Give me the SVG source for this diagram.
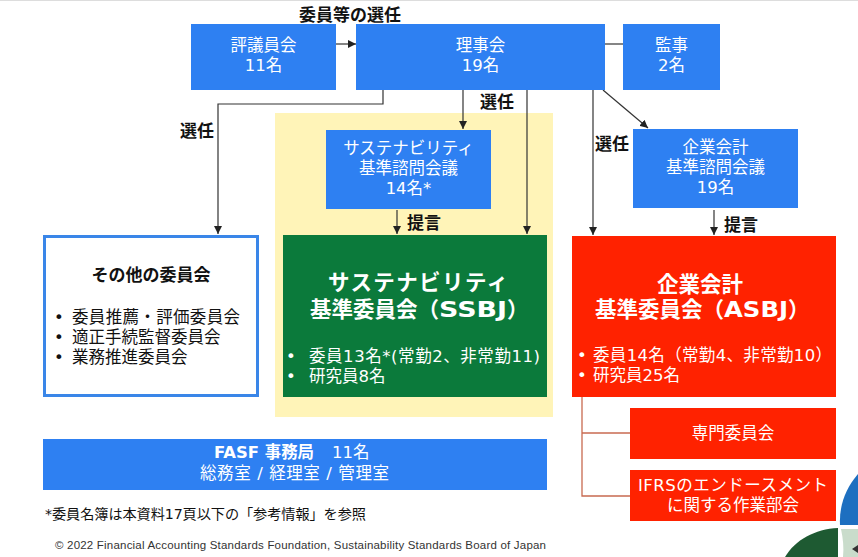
<svg xmlns="http://www.w3.org/2000/svg" width="858" height="557" viewBox="0 0 858 557">
<defs>
<marker id="ah" viewBox="0 0 8 8" refX="8" refY="4" markerWidth="8" markerHeight="8" markerUnits="userSpaceOnUse" orient="auto">
<path d="M0,0 L8,4 L0,8 z" fill="#222"/>
</marker>
<style>
text{font-family:"DejaVu Sans","Noto Sans CJK JP",sans-serif}
.w{fill:#fff;font-size:16.5px;text-anchor:middle}
.wb{fill:#fff;font-size:21.5px;font-weight:bold}
.wl{fill:#fff;font-size:16.5px}
.k{fill:#111;font-size:16.5px}
.kb{fill:#111;font-size:17px;font-weight:bold}
.blue{fill:#2E80F2}
.red{fill:#FF2200}
.ln{stroke:#333;stroke-width:1.2;fill:none}
.lna{stroke:#333;stroke-width:1.2;fill:none;marker-end:url(#ah)}
.br{stroke:#C86A50;stroke-width:1.3;fill:none}
</style>
</defs>
<rect x="0" y="0" width="858" height="557" fill="#fff"/>
<line x1="0" y1="0.5" x2="858" y2="0.5" stroke="#ddd" stroke-width="1"/>

<g id="logo">
<path d="M840,525 C839,505 846,488 858,474 L858,525 Z" fill="#1D6FC0"/>
<path d="M785,557 C795,540 815,529 838,528 L838,557 Z" fill="#1E5A32"/>
<path d="M841,529 L858,529 L858,557 L843,557 C844,548 843,538 841,529 Z" fill="#C9DCCB"/>
<path d="M852,549 L858,545 L858,553 Z" fill="#333"/>
</g>

<g id="sustain-area">
<rect x="275" y="113" width="278" height="304" fill="#FFF4B8"/>
</g>

<g id="connectors">
<line class="lna" x1="336" y1="44" x2="356" y2="44"/>
<line class="ln" x1="605" y1="44" x2="623" y2="44"/>
<polyline class="lna" points="383,90 383,104 218,104 218,234"/>
<line class="lna" x1="463" y1="90" x2="463" y2="129"/>
<line class="lna" x1="527" y1="90" x2="527" y2="234"/>
<line class="lna" x1="593" y1="90" x2="593" y2="235"/>
<line class="lna" x1="603" y1="90" x2="648" y2="128"/>
<line class="lna" x1="397" y1="210" x2="397" y2="234"/>
<line class="lna" x1="714" y1="210" x2="714" y2="235"/>
<polyline class="br" points="582,397 582,496 630,496"/>
<line class="br" x1="582" y1="433" x2="630" y2="433"/>
<text class="kb" x="350" y="21" text-anchor="middle">委員等の選任</text>
<text class="kb" x="197" y="137" text-anchor="middle">選任</text>
<text class="kb" x="497" y="108" text-anchor="middle">選任</text>
<text class="kb" x="612" y="150" text-anchor="middle">選任</text>
<text class="kb" x="407" y="229">提言</text>
<text class="kb" x="724" y="231">提言</text>
</g>

<g id="hyogiinkai">
<rect class="blue" x="191" y="24" width="145" height="66"/>
<text class="w" x="263.5" y="51">評議員会<tspan x="263.5" dy="20">11名</tspan></text>
</g>

<g id="rijikai">
<rect class="blue" x="356" y="24" width="249" height="66"/>
<text class="w" x="480.5" y="51">理事会<tspan x="480.5" dy="20">19名</tspan></text>
</g>

<g id="kanji">
<rect class="blue" x="623" y="24" width="97" height="66"/>
<text class="w" x="671.5" y="51">監事<tspan x="671.5" dy="20">2名</tspan></text>
</g>

<g id="ssb-advisory">
<rect class="blue" x="326" y="130" width="165" height="79"/>
<text class="w" x="408.5" y="154">サステナビリティ<tspan x="408.5" dy="20">基準諮問会議</tspan><tspan x="408.5" dy="20">14名*</tspan></text>
</g>

<g id="asb-advisory">
<rect class="blue" x="633" y="129" width="165" height="79"/>
<text class="w" x="715.5" y="153">企業会計<tspan x="715.5" dy="20">基準諮問会議</tspan><tspan x="715.5" dy="20">19名</tspan></text>
</g>

<g id="ssbj">
<rect x="283" y="235" width="264" height="162" fill="#0B7A3B"/>
<text class="wb" x="328" y="290" textLength="180" lengthAdjust="spacing">サステナビリティ</text>
<text class="wb" x="310" y="317">基準委員会（<tspan textLength="68" lengthAdjust="spacingAndGlyphs">SSBJ</tspan>）</text>
<text class="wl" x="286" y="362">•<tspan x="309" textLength="231" lengthAdjust="spacing">委員13名*(常勤2、非常勤11)</tspan><tspan x="286" dy="20">•</tspan><tspan x="309">研究員8名</tspan></text>
</g>

<g id="asbj">
<rect class="red" x="572" y="236" width="264" height="161"/>
<text class="wb" x="657" y="292" textLength="86" lengthAdjust="spacing">企業会計</text>
<text class="wb" x="595" y="317">基準委員会（<tspan textLength="64" lengthAdjust="spacingAndGlyphs">ASBJ</tspan>）</text>
<text class="wl" x="577" y="361">•<tspan x="593" textLength="239" lengthAdjust="spacing">委員14名（常勤4、非常勤10）</tspan><tspan x="577" dy="20">•</tspan><tspan x="593">研究員25名</tspan></text>
</g>

<g id="other-committees">
<rect x="44.5" y="236.5" width="213" height="159" fill="#fff" stroke="#3A86E8" stroke-width="3"/>
<text class="kb" x="151" y="281" text-anchor="middle">その他の委員会</text>
<text class="k" x="54" y="323">•<tspan x="72" textLength="168" lengthAdjust="spacing">委員推薦・評価委員会</tspan><tspan x="54" dy="20">•</tspan><tspan x="72">適正手続監督委員会</tspan><tspan x="54" dy="20">•</tspan><tspan x="72">業務推進委員会</tspan></text>
</g>

<g id="senmon">
<rect class="red" x="630" y="408" width="206" height="51"/>
<text class="w" x="733" y="439">専門委員会</text>
</g>

<g id="ifrs">
<rect class="red" x="630" y="470" width="206" height="51"/>
<text class="w" x="733" y="491"><tspan x="638" text-anchor="start" textLength="190" lengthAdjust="spacing">IFRSのエンドースメント</tspan><tspan x="733" dy="20">に関する作業部会</tspan></text>
</g>

<g id="fasf">
<rect class="blue" x="43" y="439" width="504" height="51"/>
<text x="214" y="458" fill="#fff" font-size="16.5"><tspan font-weight="bold" textLength="100" lengthAdjust="spacingAndGlyphs">FASF 事務局</tspan><tspan x="332">11名</tspan><tspan x="200" y="479" textLength="189" lengthAdjust="spacing">総務室 / 経理室 / 管理室</tspan></text>
</g>

<text x="45" y="519" fill="#111" font-size="14.2" textLength="321" lengthAdjust="spacing">*委員名簿は本資料17頁以下の「参考情報」を参照</text>
<text x="55" y="549" fill="#333" font-size="11.5" textLength="491" lengthAdjust="spacing" style="font-family:'Liberation Sans',Arial,sans-serif">© 2022 Financial Accounting Standards Foundation, Sustainability Standards Board of Japan</text>
</svg>
